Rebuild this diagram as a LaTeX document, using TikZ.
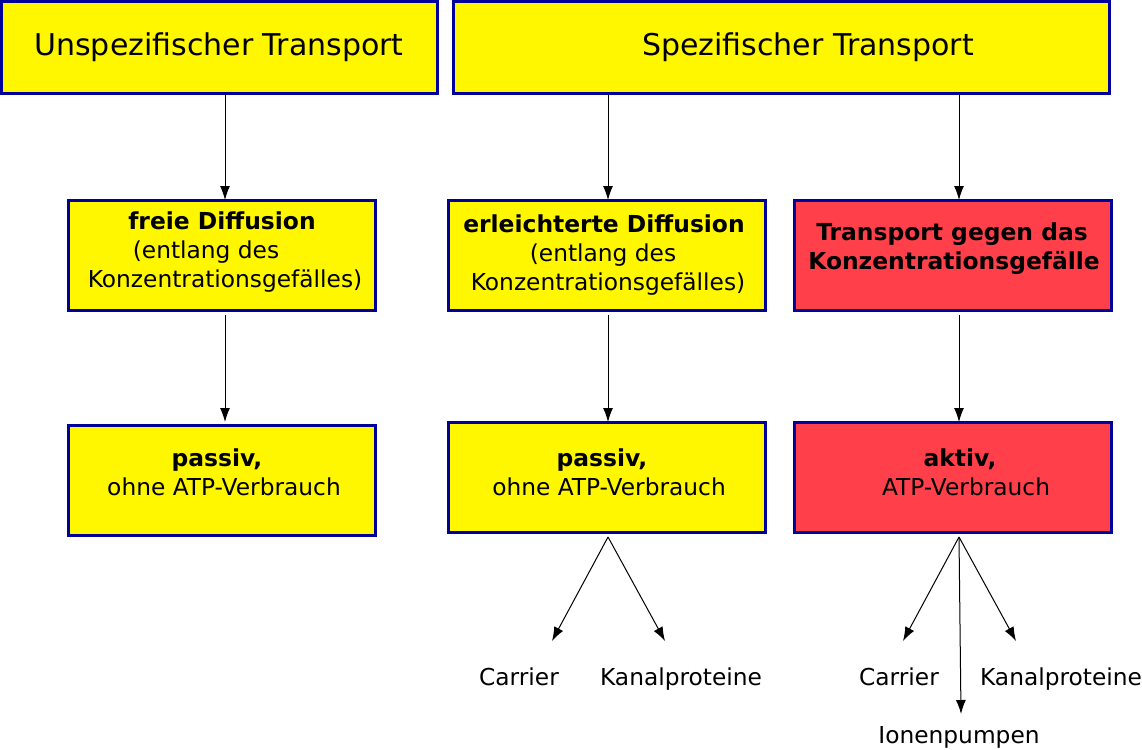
\documentclass[tikz,border=0pt]{standalone}
\usepackage{fontspec}
\setmainfont{DejaVu Sans}
\usetikzlibrary{arrows.meta}
\definecolor{yel}{HTML}{FFF700}
\definecolor{redbox}{HTML}{FF404A}
\definecolor{bcol}{HTML}{00009A}
\tikzset{
  box/.style={draw=bcol, line width=3pt, fill=yel, inner sep=0pt},
  rbox/.style={box, fill=redbox},
  big/.style={anchor=base, font=\fontsize{30}{35}\selectfont, inner sep=0pt},
  txt/.style={anchor=base, font=\fontsize{23.3}{28}\selectfont, inner sep=0pt},
  btxt/.style={txt, font=\fontsize{23.4}{28}\selectfont\bfseries},
  arr/.style={-{Latex[length=14pt,width=10pt]}, line width=1pt, black},
}
\begin{document}
\begin{tikzpicture}[x=1pt,y=-1pt]
\useasboundingbox (0,0) rectangle (1142,749);
% boxes
\path[box] (1.5,1.5) rectangle (437,94);
\coordinate (T1) at (225,95);
\path[box] (453,1.5) rectangle (1109,94);
\coordinate (T2a) at (608,95);
\coordinate (T2b) at (959,95);
\path[box] (68,200) rectangle (375,310);
\path[box] (448,200) rectangle (765,310);
\path[rbox] (794,200) rectangle (1111,310);
\path[box] (68,425) rectangle (375,535);
\path[box] (448,422) rectangle (765,532);
\path[rbox] (794,422) rectangle (1111,532);
% anchor coordinates
\coordinate (A1t) at (225,200);
\coordinate (B1t) at (608,200);
\coordinate (C1t) at (959,200);
\coordinate (A1b) at (225,315);
\coordinate (B1b) at (608,315);
\coordinate (C1b) at (959,315);
\coordinate (A2t) at (225,422);
\coordinate (B2t) at (608,422);
\coordinate (C2t) at (959,422);
\coordinate (B2b) at (608,537);
\coordinate (C2b) at (959,537);
\coordinate (Bl) at (552,641);
\coordinate (Br) at (665,641);
\coordinate (Cl) at (903,641);
\coordinate (Cr) at (1016,641);
\coordinate (Cm) at (961,714);
% texts
\node[big] (t1) at (219,56) {Unspezifischer Transport};
\node[big] (t2) at (808,56) {Spezifischer Transport};
\node[btxt] (a1) at (222,229) {freie Diffusion};
\node[txt] (a2) at (206,258) {(entlang des};
\node[txt] (a3) at (225,287) {Konzentrationsgefälles)};
\node[btxt] (b1) at (604,232) {erleichterte Diffusion};
\node[txt] (b2) at (603,261) {(entlang des};
\node[txt] (b3) at (608,290) {Konzentrationsgefälles)};
\node[btxt] (c1) at (952,240) {Transport gegen das};
\node[btxt] (c2) at (954,269) {Konzentrationsgefälle};
\node[btxt] (a4) at (217,466) {passiv,};
\node[txt] (a5) at (224,495) {ohne ATP-Verbrauch};
\node[btxt] (b4) at (602,466) {passiv,};
\node[txt] (b5) at (609,495) {ohne ATP-Verbrauch};
\node[btxt] (c4) at (960,466) {aktiv,};
\node[txt] (c5) at (966,495) {ATP-Verbrauch};
\node[txt] (l1) at (519,685) {Carrier};
\node[txt] (l2) at (681,685) {Kanalproteine};
\node[txt] (l3) at (899,685) {Carrier};
\node[txt] (l4) at (1061,685) {Kanalproteine};
\node[txt] (l5) at (959,743) {Ionenpumpen};
% arrows
\draw[arr] (T1) -- (A1t);
\draw[arr] (T2a) -- (B1t);
\draw[arr] (T2b) -- (C1t);
\draw[arr] (A1b) -- (A2t);
\draw[arr] (B1b) -- (B2t);
\draw[arr] (C1b) -- (C2t);
\draw[arr] (B2b) -- (Bl);
\draw[arr] (B2b) -- (Br);
\draw[arr] (C2b) -- (Cl);
\draw[arr] (C2b) -- (Cr);
\draw[arr] (C2b) -- (Cm);
\end{tikzpicture}
\end{document}
